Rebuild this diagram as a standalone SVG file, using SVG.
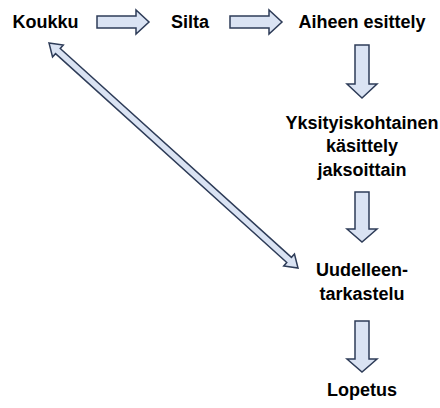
<svg xmlns="http://www.w3.org/2000/svg" width="440" height="408" viewBox="0 0 440 408">
<style>
.lbl{font-family:"Liberation Sans",Arial,sans-serif;font-weight:bold;font-size:18px;fill:#000;text-anchor:middle}
.arr{fill:#dae3f3;stroke:#2e3c58;stroke-width:1.5;stroke-linejoin:miter}
</style>
<rect width="440" height="408" fill="#fff"/>
<g id="connectors">
<path class="arr" d="M97,16 H136 V10 L149,22 L136,34 V28 H97 Z"/>
<path class="arr" d="M230,16 H269 V10 L282,22 L269,34 V28 H230 Z"/>
<path class="arr" d="M355,45 H369 V84 H377 L362,98 L347,84 H355 Z"/>
<path class="arr" d="M355,192 H369 V229 H377 L362,242 L347,229 H355 Z"/>
<path class="arr" d="M355,321 H369 V359 H377 L362,372 L347,359 H355 Z"/>
<path class="arr" transform="translate(49,43) rotate(42.1)" d="M0,0 L12,-8 V-3.5 H323.6 V-8 L335.6,0 L323.6,8 V3.5 H12 V8 Z"/>
</g>
<g id="koukku"><text class="lbl" x="45.5" y="28">Koukku</text></g>
<g id="silta"><text class="lbl" x="190" y="28">Silta</text></g>
<g id="aiheen-esittely"><text class="lbl" x="362" y="28">Aiheen esittely</text></g>
<g id="yksityiskohtainen"><text class="lbl" x="362"><tspan x="362" y="129">Yksityiskohtainen</tspan><tspan x="362" y="152">käsittely</tspan><tspan x="362" y="176">jaksoittain</tspan></text></g>
<g id="uudelleentarkastelu"><text class="lbl" x="362"><tspan x="362" y="276">Uudelleen-</tspan><tspan x="362" y="300">tarkastelu</tspan></text></g>
<g id="lopetus"><text class="lbl" x="362" y="396">Lopetus</text></g>
</svg>
